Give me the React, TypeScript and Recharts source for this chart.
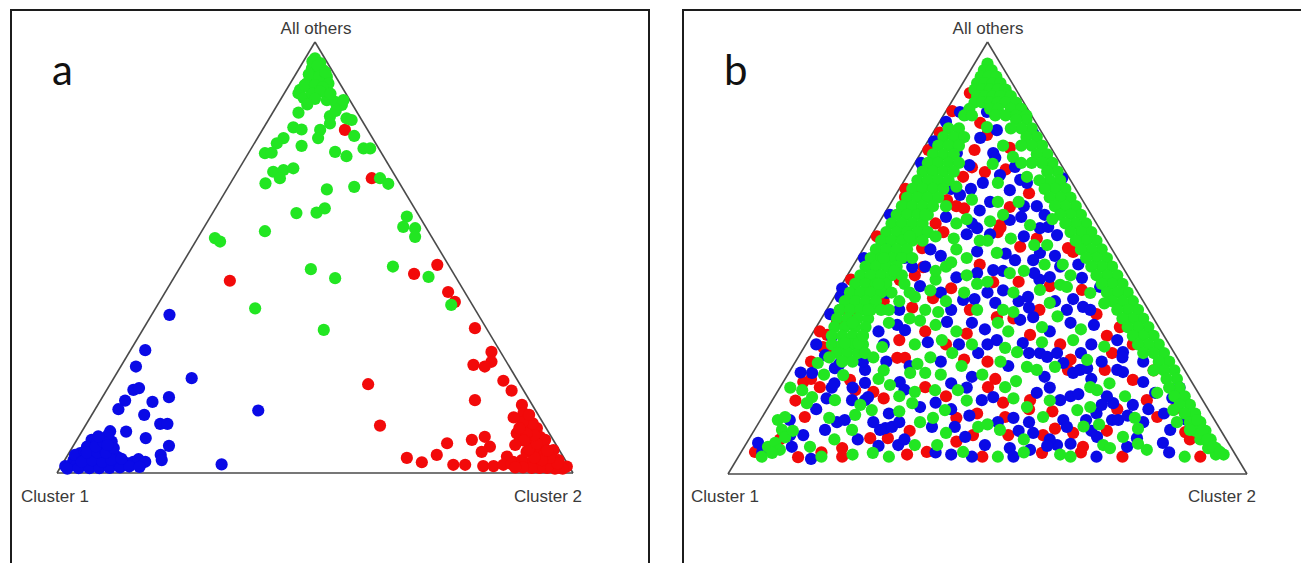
import { ScatterChart, Scatter, XAxis, YAxis, ReferenceLine } from "recharts";

// triangle corners in plot units: Cluster 1, Cluster 2, All others
const corners = [
  { x: 0, y: 0 },
  { x: 100, y: 0 },
  { x: 50, y: 100 },
];
const cornerLabels = ["Cluster 1", "Cluster 2", "All others"];

// panel a
const aBlue = [
  [21.8, 36.7], [17.1, 28.5], [15.3, 24.7], [26.1, 22.0], [14.8, 19.3], [15.9, 19.7], [13.2, 16.8], [11.9, 14.8],
  [18.5, 16.5], [21.7, 17.6], [16.9, 13.5], [20.0, 11.4], [21.4, 11.4], [39.0, 14.5], [13.4, 9.6], [10.3, 9.7],
  [17.2, 8.1], [21.7, 6.3], [20.1, 4.2], [20.3, 3.0], [31.9, 2.0],
  [6.7, 7.7], [5.8, 6.1], [4.5, 4.6], [3.2, 3.0], [2.8, 1.9], [5.1, 1.9], [7.0, 2.3], [9.0, 1.9], [10.6, 2.3],
  [11.6, 3.8], [10.3, 5.3], [10.6, 7.3], [9.9, 8.8], [8.3, 3.8], [7.0, 4.6], [8.7, 5.8], [7.7, 7.0], [4.5, 3.0],
  [6.1, 3.5], [13.5, 2.3], [14.8, 2.6], [15.8, 3.2], [17.1, 2.6], [3.8, 1.9], [1.6, 1.6], [3.5, 4.2], [5.4, 4.9],
  [7.9, 2.6], [6.0, 1.6], [9.3, 3.5], [11.8, 1.9],
  [2.0, 1.0], [4.2, 1.1], [6.3, 1.1], [8.2, 1.1], [10.2, 1.2], [12.2, 1.3], [14.0, 1.5], [16.0, 1.4], [4.8, 2.6],
  [6.8, 3.0], [8.8, 2.6], [10.5, 3.1], [12.5, 3.3], [5.8, 4.8], [7.8, 4.8], [9.5, 4.7], [11.0, 5.8], [7.5, 6.2],
  [9.0, 7.2], [8.0, 8.5], [9.8, 6.5],
];
const aRed = [
  [55.8, 79.6], [61.0, 68.4], [33.5, 44.6], [73.7, 48.3], [69.2, 46.2], [75.8, 42.0], [77.1, 39.7], [81.0, 33.6],
  [84.2, 28.1], [84.2, 25.8], [80.7, 25.1], [82.9, 24.7], [60.3, 20.6], [86.5, 21.4], [88.1, 19.1], [81.0, 16.9],
  [90.1, 15.8], [90.4, 13.9], [62.6, 11.0], [91.0, 10.7], [93.0, 10.4], [93.6, 8.4], [92.0, 7.7], [89.7, 7.7],
  [94.2, 6.1], [96.2, 5.3], [94.9, 3.8], [97.2, 3.0], [98.8, 1.5], [96.2, 1.9], [93.6, 2.3], [91.7, 2.3],
  [90.1, 3.0], [88.4, 2.6], [87.2, 3.8], [93.0, 4.2], [91.0, 4.9], [89.1, 9.2], [82.9, 8.4], [80.4, 7.7],
  [83.9, 6.1], [82.3, 4.9], [75.6, 6.9], [73.6, 4.2], [67.8, 3.5], [70.7, 2.5], [76.8, 1.9], [79.1, 1.9],
  [82.6, 1.6], [84.6, 1.6], [86.5, 1.9], [88.1, 2.1], [97.5, 1.2], [95.2, 2.6], [92.6, 6.0], [94.6, 7.7],
  [91.3, 12.8],
  [98.0, 1.0], [96.5, 1.0], [95.0, 1.2], [93.5, 1.2], [92.0, 1.2], [90.3, 1.3], [88.8, 1.3], [97.0, 2.2],
  [95.5, 3.5], [94.0, 3.0], [92.5, 3.6], [91.5, 5.5], [93.0, 6.8], [95.0, 5.2], [92.5, 8.8], [91.0, 9.2],
  [92.2, 11.5], [90.2, 11.8], [89.6, 10.4], [91.5, 13.5], [88.5, 12.9], [90.5, 7.5], [88.8, 6.5],
];
const aGreen = [
  [50.0, 96.2], [51.0, 95.1], [49.4, 93.9], [50.3, 93.1], [51.6, 93.5], [52.3, 91.9], [51.0, 91.2], [49.7, 91.9],
  [48.4, 90.4], [47.1, 88.9], [46.8, 88.1], [49.0, 89.3], [52.6, 90.4], [52.3, 86.5], [53.9, 86.1], [55.2, 85.4],
  [46.8, 83.6], [52.9, 82.8], [52.9, 81.1], [56.1, 82.3], [57.1, 81.9], [45.8, 80.2], [47.4, 79.7], [43.9, 77.7],
  [42.6, 76.5], [51.0, 79.6], [50.6, 77.7], [57.6, 78.2], [47.4, 75.9], [40.3, 74.2], [41.6, 74.3], [53.9, 74.5],
  [56.1, 73.5], [59.4, 75.3], [60.7, 75.3], [41.9, 69.9], [43.9, 70.3], [45.8, 70.7], [43.2, 68.4], [40.4, 67.2],
  [52.3, 65.8], [57.6, 66.4], [62.6, 68.4], [64.2, 67.1], [46.4, 60.3], [50.3, 60.4], [51.9, 61.4], [40.3, 56.1],
  [30.6, 54.5], [31.6, 53.7], [67.8, 59.5], [67.1, 57.1], [69.4, 56.8], [69.4, 54.8], [49.2, 47.3], [53.9, 45.2],
  [65.1, 47.9], [72.0, 45.5], [38.4, 38.2], [51.7, 33.2], [76.4, 39.0],
  [49.5, 95.5], [50.5, 94.5], [48.8, 92.5], [50.8, 92.0], [52.0, 93.0], [48.0, 90.0], [50.0, 90.0], [51.5, 89.5],
  [47.8, 87.0], [49.5, 88.0], [51.0, 88.5], [53.0, 88.0], [50.0, 86.8], [48.5, 85.5], [54.0, 84.0], [55.5, 86.5],
];

// panel b
const bRed = [
  [46.6, 88.2], [48.6, 81.3], [49.9, 78.5], [54.3, 75.5], [45.3, 68.8], [49.5, 69.9], [36.4, 66.2],
  [21.6, 38.0], [21.0, 35.2], [34.1, 64.1], [37.4, 52.3], [37.6, 47.9], [42.2, 63.4], [46.6, 38.0], [33.1, 44.9],
  [39.5, 40.7], [51.1, 44.4], [54.3, 61.8], [52.4, 57.6], [56.3, 52.6], [65.5, 52.3], [66.5, 51.4], [68.2, 42.6],
  [75.5, 34.0], [51.8, 36.3], [5.2, 5.1], [13.5, 3.9], [14.8, 13.2], [14.5, 21.3], [17.7, 20.1], [18.3, 29.4],
  [19.1, 32.2], [23.5, 21.8], [24.5, 19.4], [27.4, 8.3], [30.8, 8.3], [38.3, 5.1], [47.2, 9.0], [32.6, 26.9],
  [34.1, 26.9], [50.1, 20.1], [38.0, 20.1], [58.2, 32.2], [65.5, 24.1], [72.6, 24.1], [78.0, 21.8], [80.7, 17.1],
  [82.7, 13.2], [88.1, 9.7], [66.5, 9.5], [68.4, 6.3], [60.7, 9.0], [60.5, 4.9], [58.2, 17.1], [53.4, 13.2],
  [44, 62], [40, 58], [36, 46], [30, 40], [27, 44], [24, 38], [20, 28], [16, 22], [13, 17], [10, 8], [18, 5],
  [22, 6], [35, 10], [44, 13], [50, 26], [55, 36], [60, 38], [64, 30], [71, 37], [74, 28], [78, 30], [82, 24],
  [86, 15], [89, 8], [91, 4], [68, 5], [58, 15], [48, 14], [42, 30], [38, 33], [52, 56], [58, 65], [47, 71],
  [47.5, 75], [53.5, 70.5], [45.5, 61.5], [52.5, 57], [41.5, 56], [59.5, 54.5], [48.5, 48.5], [56, 44.5],
  [43, 43], [62, 43.5], [35.5, 38.5], [46, 32.5], [73, 32], [33, 31], [45.5, 26.5], [66, 26.5], [51.5, 22],
  [30, 17.5], [42, 18], [62.5, 14.5], [54, 9], [73, 10], [22, 4], [34.5, 4.5], [49, 4], [76, 4], [16, 26],
  [34.2, 66], [28.7, 55], [23.7, 45], [17.7, 33],
  [75, 15], [28, 19], [63, 10.5], [44, 7.5], [53, 16.5], [40.8, 79], [38.6, 75], [43.2, 84],
];
const bBlue = [
  [44.7, 83.8], [45.7, 83.1], [49.9, 83.8], [51.8, 79.6], [48.6, 77.8], [51.1, 74.3], [51.5, 73.2], [55.3, 71.1],
  [44.1, 74.3], [49.1, 67.4], [58.8, 78.9], [62.4, 70.8], [64.4, 68.5], [37.6, 70.4], [23.1, 39.6], [26.8, 49.5],
  [34.5, 61.1], [38.3, 56.0], [35.5, 47.9], [33.1, 50.2], [44.7, 64.6], [50.5, 63.0], [48.0, 56.9], [45.3, 40.3],
  [42.2, 35.2], [32.6, 34.5], [30.6, 41.9], [51.1, 47.2], [52.4, 69.2], [54.3, 65.7], [56.3, 68.1], [57.6, 67.4],
  [54.3, 58.8], [60.1, 56.9], [61.7, 57.2], [63.4, 55.3], [60.1, 51.2], [58.8, 49.5], [55.3, 49.5], [62.0, 45.6],
  [68.2, 45.4], [71.7, 43.3], [57.8, 41.0], [65.3, 38.0], [68.4, 38.7], [69.8, 38.0], [58.8, 36.3], [56.3, 35.7],
  [51.5, 39.6], [5.8, 7.2], [6.6, 5.1], [12.3, 6.3], [11.9, 12.5], [16.2, 23.4], [18.7, 27.5], [20.0, 31.7],
  [20.6, 24.5], [23.9, 17.1], [26.4, 17.1], [21.0, 12.0], [18.7, 10.2], [22.5, 12.5], [30.3, 10.6], [31.6, 10.9],
  [29.3, 10.2], [32.8, 6.7], [27.0, 17.8], [26.4, 24.1], [26.4, 21.1], [33.1, 21.3], [37.0, 15.5], [39.3, 10.9],
  [43.7, 10.9], [45.7, 8.6], [49.5, 6.7], [48.9, 17.1], [48.2, 28.0], [34.1, 33.3], [51.8, 31.0], [56.8, 30.3],
  [60.1, 28.0], [61.5, 27.1], [63.4, 28.0], [64.6, 25.7], [66.5, 23.4], [67.8, 24.1], [69.2, 24.5], [75.0, 24.1],
  [76.1, 23.6], [75.0, 31.0], [76.1, 28.2], [80.0, 21.3], [82.3, 18.8], [85.2, 10.2], [83.8, 7.2], [78.8, 8.3],
  [76.9, 6.3], [71.1, 8.6], [74.0, 12.5], [75.2, 12.5], [74.2, 16.4], [64.0, 17.1], [64.6, 12.5], [65.3, 10.9],
  [63.4, 6.7], [58.8, 9.5], [58.2, 5.6], [59.5, 18.8], [51.1, 17.8], [54.3, 6.0], [85.6, 17.6], [88.4, 12.5],
  [94.8, 4.9], [38, 48], [41, 42], [43, 38], [47, 35], [50, 42], [53, 47], [56, 40], [60, 45], [63, 40], [66, 35],
  [70, 30], [72, 26], [62, 33], [58, 28], [54, 25], [50, 30], [46, 20], [43, 15], [52, 12], [56, 10], [62, 20],
  [66, 18], [70, 22], [73, 18], [78, 16], [76, 27], [80, 26], [68, 28], [64, 48], [61, 60], [57, 62], [47, 58],
  [43, 66], [39, 52], [34, 50], [31, 53], [28, 48], [25, 42], [22, 43], [35, 25], [30, 30], [26, 26], [20, 20],
  [17, 15], [12, 9], [25, 8], [33, 12], [40, 5], [47, 4], [55, 4], [62, 8], [70, 10], [80, 12], [84, 14], [87, 20],
  [46.5, 71.5], [46.8, 66], [48.5, 61], [59.5, 62], [42, 59.5], [56.5, 59.5], [46, 55.5], [50.5, 55.5], [57, 55],
  [41, 50.5], [48, 51.5], [53.5, 51], [63, 50.5], [44, 45.5], [48, 46.5], [59, 46.5], [67.5, 48.5], [37, 43.5],
  [47.5, 40.5], [53, 42.5], [66.5, 40.5], [33, 38], [58, 38.5], [29, 33], [49.5, 33.5], [70.5, 34.5], [38.5, 30.5],
  [44.5, 30], [30.5, 26], [41, 26], [43, 21], [47, 22.5], [61, 22.5], [19, 17.5], [34, 19.5], [67.5, 18.5],
  [28, 12], [46.5, 13.5], [55, 13], [71, 14], [81, 15], [14.5, 9], [34, 8], [16, 3.5], [29, 6.5], [43, 4.5],
  [61.5, 6.5], [71, 4], [85, 5], [17, 30], [21.5, 25.5], [14, 23.5], [20.5, 21],
  [37.2, 72], [31.2, 60], [26.2, 50], [21.7, 41], [19.7, 37],
  [72, 16], [77, 13.5], [69, 12.5], [40, 16.5], [31, 14], [24, 20], [58, 12], [66, 7], [39.7, 77], [42, 81.5],
];
const bGreen = [
  // top corner
  [50, 95], [49.3, 93.5], [50.8, 93.5], [48.7, 92], [50.2, 92], [51.7, 92], [48, 90.5], [49.5, 90.5], [51, 90.5],
  [52.5, 90.5], [47.5, 89], [49, 89], [50.5, 89], [52, 89], [53.5, 89], [48, 87.5], [49.5, 87.5], [51, 87.5],
  [52.5, 87.5], [54.5, 87.5], [47.5, 86], [49, 86], [50.5, 86], [52, 86], [53.5, 86], [55.5, 86], [46.5, 84.5],
  [50.5, 84.5], [52, 84.5], [54.5, 84.5], [56.5, 84.5], [45.5, 83], [47, 83], [51.5, 83], [53.5, 83], [55.5, 83],
  [57.5, 83],
  // band near the right side
  [57.5, 82], [55.5, 82], [58.5, 80], [56.5, 80], [54.5, 80], [59.5, 78], [57.5, 78], [60.5, 76], [58.5, 76],
  [56.5, 76], [61.5, 74], [59.5, 74], [62.5, 72], [60.5, 72], [58.5, 72], [63.5, 70], [61.5, 70], [64, 68], [62, 68],
  [60, 68], [65, 66], [63, 66], [61, 66], [66, 64], [64, 64], [62, 64], [67, 62], [65, 62], [63, 62], [68, 60],
  [66, 60], [64, 60], [69, 58], [67, 58], [65, 58], [70, 56], [68, 56], [66, 56], [71, 54], [69, 54], [67, 54],
  [72, 52], [70, 52], [68, 52], [73, 50], [71, 50], [69, 50], [74, 48], [72, 48], [70, 48], [75, 46], [73, 46],
  [71, 46], [76, 44], [74, 44], [72, 44], [77, 42], [75, 42], [73, 42], [78, 40], [76, 40], [74, 40], [79, 38],
  [77, 38], [75, 38], [80, 36], [78, 36], [76, 36], [81, 34], [79, 34], [77, 34], [82, 32], [80, 32], [78, 32],
  [83, 30], [81, 30], [79, 30], [84, 28], [82, 28], [80, 28], [85, 26], [83, 26], [86, 24], [84, 24], [82, 24],
  [86.5, 22], [84.5, 22], [87, 20], [85, 20], [88, 18], [86, 18], [89, 16], [87, 16], [90, 14], [88, 14], [91, 12],
  [89, 12], [92, 10], [90, 10], [93, 8], [91, 8], [94, 6], [92.5, 6], [95.5, 4.5], [94, 4.5],
  // band near the left side
  [42.5, 80], [44.5, 80], [41.5, 78], [43.5, 78], [45.5, 78], [40.5, 76], [42.5, 76], [44.5, 76], [39.5, 74],
  [41.5, 74], [43.5, 74], [38.5, 72], [40.5, 72], [42.5, 72], [44.5, 72], [37.5, 70], [39.5, 70], [41.5, 70],
  [43.5, 70], [36.5, 68], [38.5, 68], [40.5, 68], [42.5, 68], [35.5, 66], [37.5, 66], [39.5, 66], [41.5, 66],
  [34.5, 64], [36.5, 64], [38.5, 64], [40.5, 64], [33.5, 62], [35.5, 62], [37.5, 62], [39.5, 62], [32.5, 60],
  [34.5, 60], [36.5, 60], [38.5, 60], [31.5, 58], [33.5, 58], [35.5, 58], [37.5, 58], [30.5, 56], [32.5, 56],
  [34.5, 56], [36.5, 56], [38.5, 56], [29.5, 54], [31.5, 54], [33.5, 54], [35.5, 54], [37.5, 54], [28.5, 52],
  [30.5, 52], [32.5, 52], [34.5, 52], [27.5, 50], [29.5, 50], [31.5, 50], [33.5, 50], [35.5, 50], [26.5, 48],
  [28.5, 48], [30.5, 48], [32.5, 48], [25.5, 46], [27.5, 46], [29.5, 46], [31.5, 46], [33.5, 46], [24.5, 44],
  [26.5, 44], [28.5, 44], [30.5, 44], [23.5, 42], [25.5, 42], [27.5, 42], [29.5, 42], [31.5, 42], [22.5, 40],
  [24.5, 40], [26.5, 40], [28.5, 40], [21.5, 38], [23.5, 38], [25.5, 38], [27.5, 38], [29.5, 38], [21, 36],
  [23, 36], [25, 36], [27, 36], [20.5, 34], [22.5, 34], [24.5, 34], [26.5, 34], [20, 32], [22, 32], [24, 32],
  [26, 32], [20, 30], [22, 30], [24, 30], [26, 30], [21, 28], [23, 28], [25, 28], [22, 26], [24, 26],
  // scattered inside
  [49.9, 80.3], [54.9, 73.4], [52.0, 67.4], [57.6, 68.8], [58.2, 57.6], [51.8, 51.2], [54.3, 46.5], [64.0, 43.8],
  [65.3, 43.3], [60.1, 42.6], [62.0, 39.6], [69.8, 41.9], [53.0, 38.0], [7.7, 6.3], [9.1, 7.2], [10.0, 5.6],
  [8.5, 4.9], [15.8, 6.3], [9.6, 12.5], [11.0, 13.2], [10.4, 10.2], [14.3, 19.4], [16.2, 17.8], [15.2, 16.4],
  [17.3, 25.7], [20.6, 17.1], [22.2, 22.9], [24.5, 13.7], [23.9, 10.2], [27.9, 4.9], [36.0, 6.7], [40.3, 6.7],
  [27.7, 14.8], [22.5, 30.3], [25.1, 30.3], [26.4, 28.0], [29.7, 29.4], [31.2, 20.6], [35.1, 23.4], [38.0, 23.4],
  [39.5, 13.0], [41.8, 14.8], [45.3, 5.1], [48.2, 10.9], [44.3, 19.4], [43.2, 28.0], [39.9, 19.4], [41.2, 31.0],
  [35.5, 16.4], [53.4, 29.2], [55.7, 28.2], [57.6, 24.8], [59.5, 24.1], [63.0, 24.8], [69.2, 26.4], [82.7, 18.8],
  [80.7, 5.6], [76.1, 8.6], [72.3, 6.7], [73.6, 6.0], [78.4, 13.0], [69.8, 15.5], [69.8, 20.1], [71.1, 19.4],
  [67.3, 14.8], [57.6, 15.5], [60.7, 13.2], [53.4, 20.1], [52.4, 10.2], [85.8, 14.8], [90.4, 12.5], [91.5, 10.2],
  [92.3, 7.9], [93.5, 6.3], [94.8, 5.1], [89.0, 10.2], [30, 50], [32, 47], [34, 44], [36, 41], [38, 38], [33, 40],
  [29, 44], [27, 38], [31, 35], [35, 36], [40, 45], [42, 48], [44, 52], [40, 55], [38, 60], [42, 62], [44, 58],
  [46, 50], [48, 44], [36, 30], [39, 27], [44, 33], [47, 30], [24, 35], [26, 32], [28, 27], [30, 24], [33, 18],
  [37, 12], [41, 23], [45, 25], [49, 23], [52, 35], [55, 42], [57, 47], [59, 53], [48, 38], [46, 46], [50, 54],
  [53, 60], [56, 63], [35, 55], [6.5, 4], [11, 8.5], [12.5, 10], [18, 4], [24, 4.5], [31, 4], [52, 4], [57, 5],
  [64, 4.5],
  [53, 76], [56.5, 72], [51, 71.8], [44, 66.5], [47, 63.5], [52, 63], [46, 59], [50.5, 58.5], [62.5, 59],
  [43.5, 54.5], [48.5, 54], [54.5, 54.5], [61.5, 53], [43, 49], [64.5, 48.5], [40, 47], [50, 44.5], [61, 48.5],
  [66, 46], [35, 42], [45.5, 42], [40.5, 37.5], [55, 37.5], [63.5, 36.5], [72.5, 39.5], [40, 34.5], [54, 33],
  [60.5, 34], [68, 33.5], [60.5, 30.5], [66.5, 31], [72.5, 29.5], [36.5, 25.5], [52.5, 26], [29, 22], [55.5, 21.5],
  [73.5, 21], [55, 17.5], [62, 17], [76.5, 18], [19.5, 13], [33, 14.5], [50, 11.5], [20.5, 8], [42, 9.5],
  [68.5, 11], [79, 10.5], [86.5, 12], [66, 4], [88, 4], [19.5, 27], [18.5, 23], [12, 20],
  [71.5, 11.5], [79, 7], [36, 19], [25.5, 16], [46, 17], [57, 8], [42, 40], [37, 35.5], [31, 38], [39, 42.5],
];

const RED = "#f20a0a";
const BLUE = "#0a0ae6";
const GREEN = "#22e622";

const toPts = (arr: number[][]) => arr.map(([x, y]) => ({ x, y }));

const dot = (color: string) => (props: any) => (
  <circle cx={props.cx} cy={props.cy} r={6.1} fill={color} />
);

const labelStyle: React.CSSProperties = {
  position: "absolute",
  fontFamily: "'Liberation Sans', Arial, sans-serif",
  fontSize: 17,
  color: "#3a3a3a",
  lineHeight: "20px",
  whiteSpace: "nowrap",
  transform: "translateX(-50%)",
};

interface PanelProps {
  letter: string;
  boxLeft: number;
  chartLeft: number;
  chartWidth: number;
  margin: { top: number; right: number; bottom: number; left: number };
  red: number[][];
  blue: number[][];
  green: number[][];
  labelX: number[];
}

const Panel = ({ letter, boxLeft, chartLeft, chartWidth, margin, red, blue, green, labelX }: PanelProps) => {
  const edges = [
    [corners[0], corners[1]],
    [corners[1], corners[2]],
    [corners[2], corners[0]],
  ];
  return (
    <>
      <div
        style={{
          position: "absolute",
          left: boxLeft,
          top: 9,
          width: 640,
          height: 580,
          border: "2px solid #1c1c1c",
          boxSizing: "border-box",
          background: "#fff",
        }}
      />
      <div
        style={{
          position: "absolute",
          left: boxLeft + 42,
          top: 48,
          fontFamily: "Lato, 'Open Sans', sans-serif",
          fontSize: 42,
          lineHeight: "42px",
          color: "#111",
        }}
      >
        {letter}
      </div>
      <div style={{ position: "absolute", left: chartLeft, top: 0 }}>
        <ScatterChart width={chartWidth} height={563} margin={margin}>
          <XAxis type="number" dataKey="x" domain={[0, 100]} hide />
          <YAxis type="number" dataKey="y" domain={[0, 100]} hide />
          {edges.map((seg, i) => (
            <ReferenceLine key={i} segment={seg} stroke="#4a4a4a" strokeWidth={1.6} />
          ))}
          <Scatter data={toPts(red)} shape={dot(RED)} isAnimationActive={false} />
          <Scatter data={toPts(blue)} shape={dot(BLUE)} isAnimationActive={false} />
          <Scatter data={toPts(green)} shape={dot(GREEN)} isAnimationActive={false} />
        </ScatterChart>
      </div>
      <div style={{ ...labelStyle, left: labelX[0], top: 487 }}>{cornerLabels[0]}</div>
      <div style={{ ...labelStyle, left: labelX[1], top: 487 }}>{cornerLabels[1]}</div>
      <div style={{ ...labelStyle, left: labelX[2], top: 19 }}>{cornerLabels[2]}</div>
    </>
  );
};

export default function App() {
  return (
    <div style={{ position: "absolute", left: 0, top: 0, width: 1301, height: 563, overflow: "hidden", background: "#fff" }}>
      <Panel
        letter="a"
        boxLeft={10}
        chartLeft={0}
        chartWidth={650}
        margin={{ top: 42, right: 77, bottom: 90, left: 57 }}
        red={aRed}
        blue={aBlue}
        green={aGreen}
        labelX={[55, 548, 316]}
      />
      <Panel
        letter="b"
        boxLeft={682}
        chartLeft={660}
        chartWidth={641}
        margin={{ top: 42, right: 54, bottom: 89, left: 68 }}
        red={bRed}
        blue={bBlue}
        green={bGreen}
        labelX={[725, 1222, 988]}
      />
    </div>
  );
}
